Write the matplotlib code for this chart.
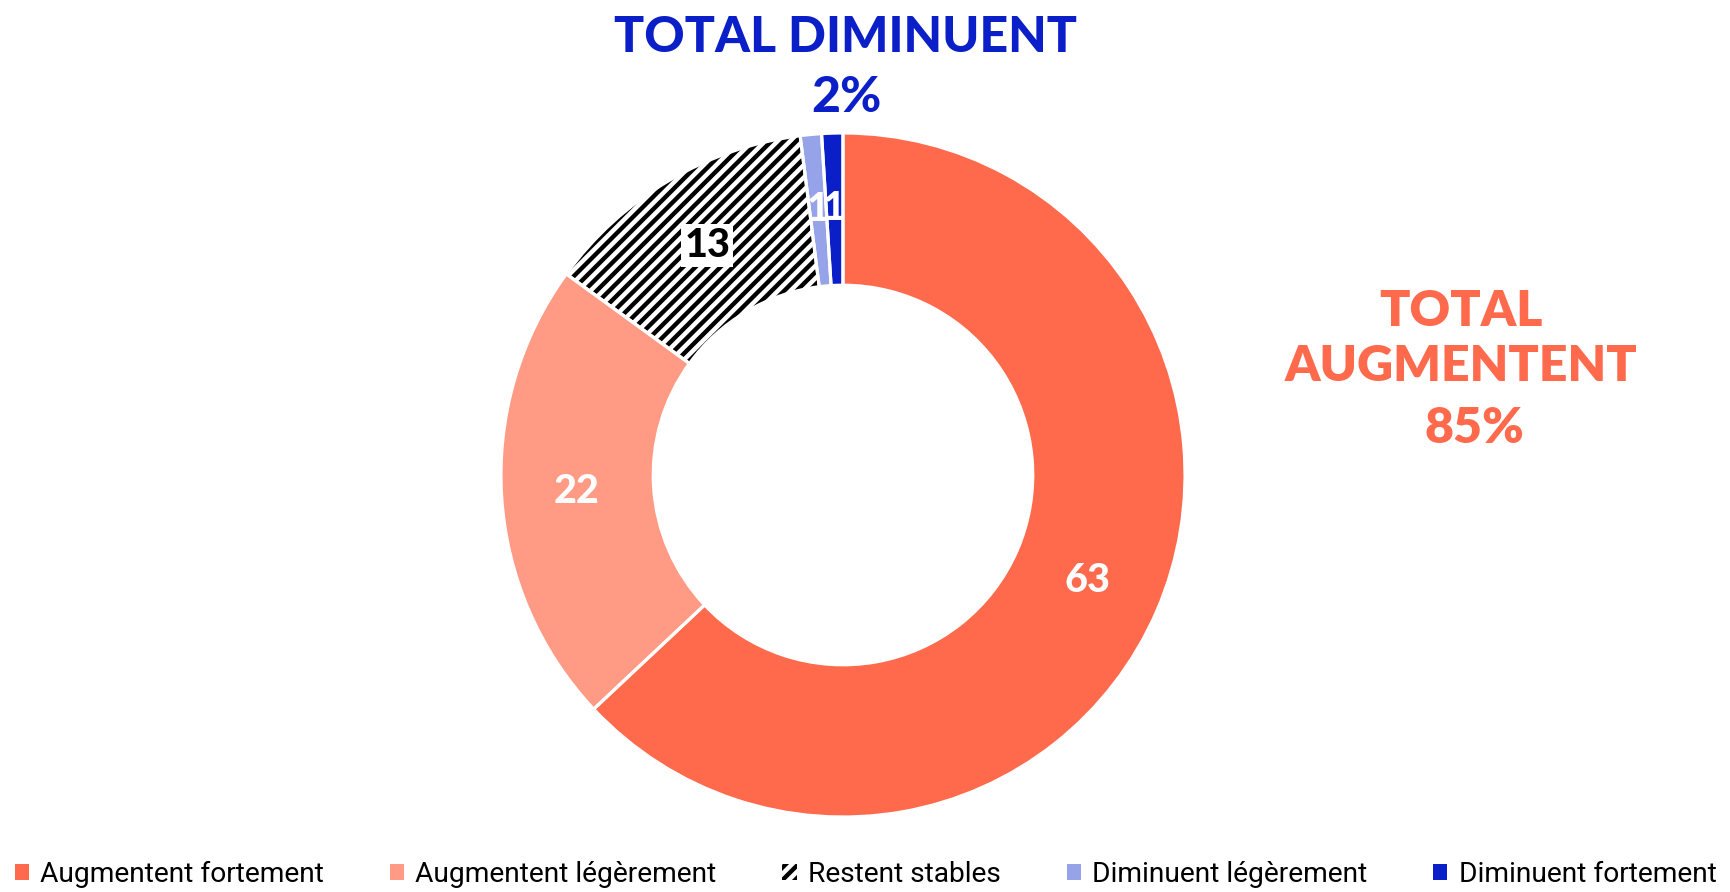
import matplotlib.pyplot as plt
from matplotlib.patches import Patch

# données
categories = ["Augmentent fortement", "Augmentent légèrement", "Restent stables",
              "Diminuent légèrement", "Diminuent fortement"]
values = [63, 22, 13, 1, 1]
colors = ["#FF6A4D", "#FF9A85", "white", "#97A3E8", "#0A1FC8"]
label_colors = ["white", "white", "black", "white", "white"]
total_up = ["TOTAL", "AUGMENTENT", "85%"]

W, H, DPI = 1731, 892, 150
plt.rcParams["hatch.linewidth"] = 2.1
plt.rcParams["font.family"] = ["Lato", "DejaVu Sans"]

fig = plt.figure(figsize=(W / DPI, H / DPI), dpi=DPI)
cx, cy, R = 843, 475, 342
ax = fig.add_axes([(cx - R) / W, (H - cy - R) / H, 2 * R / W, 2 * R / H])

wedges, texts, autotexts = ax.pie(
    values, radius=1, startangle=90, counterclock=False, colors=colors,
    autopct=lambda p: f"{p:.0f}", pctdistance=0.78,
    wedgeprops=dict(width=0.445, linewidth=0),
    textprops=dict(fontsize=19, fontweight="black"))

# zone hachurée
wedges[2].set_hatch("////")
wedges[2].set_edgecolor("black")

# séparateurs blancs
ax.pie(values, radius=1, startangle=90, counterclock=False,
       wedgeprops=dict(width=0.445, facecolor="none", edgecolor="white", linewidth=1.5))

for t, c in zip(autotexts, label_colors):
    t.set_color(c)
autotexts[2].set_bbox(dict(facecolor="white", edgecolor="none", pad=1.5))
ax.set_aspect("equal")
ax.set_xlim(-1, 1)
ax.set_ylim(-1, 1)

# totaux
fig.text(846 / W, 1 - 52 / H, "TOTAL DIMINUENT", ha="center", va="baseline",
         fontsize=24, fontweight="black", color="#0A1FC8")
fig.text(846 / W, 1 - 111.5 / H, "2%", ha="center", va="baseline",
         fontsize=24, fontweight="black", color="#0A1FC8")
for txt, xc, yb in zip(total_up, [1461, 1461, 1474], [325.7, 380.9, 442.7]):
    fig.text(xc / W, 1 - yb / H, txt, ha="center", va="baseline",
             fontsize=24, fontweight="heavy", color="#FF6A4D")

# légende
handles = []
for i, c in enumerate(colors):
    if i == 2:
        handles.append(Patch(facecolor="white", edgecolor="black", hatch="////", linewidth=0))
    else:
        handles.append(Patch(facecolor=c, linewidth=0))
fig.legend(handles, categories, loc="center", bbox_to_anchor=(0.5, 1 - 874 / H),
           ncol=5, frameon=False, handlelength=0.5, handleheight=0.5,
           handletextpad=0.4, columnspacing=2.35,
           prop=dict(family="Roboto", size=13.5))

fig.savefig("out.png", dpi=DPI)
